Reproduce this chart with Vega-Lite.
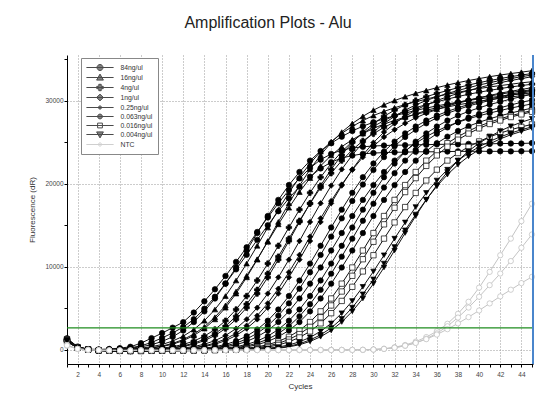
{
"$schema":"https://vega.github.io/schema/vega-lite/v6.json",
"width":466,"height":309,
"autosize":{"type":"none"},
"padding":{"left":67,"top":55,"right":18,"bottom":46},
"background":"white",
"config":{"view":{"stroke":null},"font":"Liberation Sans",
"legend":{"padding":5,"strokeColor":"#888","fillColor":"#fff","symbolSize":64,"symbolStrokeWidth":1,"labelFontSize":6.8,"labelColor":"#333","labelFont":"Liberation Sans","rowPadding":-1.6,"symbolOffset":9.5,"labelOffset":16,"cornerRadius":0,"labelExpr":"datum.label + '    '"}},
"title":{"text":"Amplification Plots - Alu","fontSize":16,"fontWeight":"normal","color":"#222","baseline":"alphabetic","offset":10,"anchor":"middle","frame":"group","dx":-32},
"data":{"values":[
{"s":"84ng/ul","r":"a","c":1,"f":1400},{"s":"84ng/ul","r":"a","c":2,"f":400},{"s":"84ng/ul","r":"a","c":3,"f":100},{"s":"84ng/ul","r":"a","c":4,"f":60},{"s":"84ng/ul","r":"a","c":5,"f":120},{"s":"84ng/ul","r":"a","c":6,"f":220},{"s":"84ng/ul","r":"a","c":7,"f":380},{"s":"84ng/ul","r":"a","c":8,"f":820},{"s":"84ng/ul","r":"a","c":9,"f":1420},{"s":"84ng/ul","r":"a","c":10,"f":2030},{"s":"84ng/ul","r":"a","c":11,"f":2680},{"s":"84ng/ul","r":"a","c":12,"f":3350},{"s":"84ng/ul","r":"a","c":13,"f":4500},{"s":"84ng/ul","r":"a","c":14,"f":5850},{"s":"84ng/ul","r":"a","c":15,"f":7300},{"s":"84ng/ul","r":"a","c":16,"f":8900},{"s":"84ng/ul","r":"a","c":17,"f":10600},{"s":"84ng/ul","r":"a","c":18,"f":12350},{"s":"84ng/ul","r":"a","c":19,"f":14200},{"s":"84ng/ul","r":"a","c":20,"f":15950},{"s":"84ng/ul","r":"a","c":21,"f":17650},{"s":"84ng/ul","r":"a","c":22,"f":19250},{"s":"84ng/ul","r":"a","c":23,"f":20650},{"s":"84ng/ul","r":"a","c":24,"f":21900},{"s":"84ng/ul","r":"a","c":25,"f":22900},{"s":"84ng/ul","r":"a","c":26,"f":23600},{"s":"84ng/ul","r":"a","c":27,"f":24050},{"s":"84ng/ul","r":"a","c":28,"f":24300},{"s":"84ng/ul","r":"a","c":29,"f":24450},{"s":"84ng/ul","r":"a","c":30,"f":24550},{"s":"84ng/ul","r":"a","c":31,"f":24600},{"s":"84ng/ul","r":"a","c":32,"f":24650},{"s":"84ng/ul","r":"a","c":33,"f":24650},{"s":"84ng/ul","r":"a","c":34,"f":24700},{"s":"84ng/ul","r":"a","c":35,"f":24700},{"s":"84ng/ul","r":"a","c":36,"f":24750},{"s":"84ng/ul","r":"a","c":37,"f":24750},{"s":"84ng/ul","r":"a","c":38,"f":24750},{"s":"84ng/ul","r":"a","c":39,"f":24800},{"s":"84ng/ul","r":"a","c":40,"f":24800},{"s":"84ng/ul","r":"a","c":41,"f":24800},{"s":"84ng/ul","r":"a","c":42,"f":24850},{"s":"84ng/ul","r":"a","c":43,"f":24850},{"s":"84ng/ul","r":"a","c":44,"f":24850},{"s":"84ng/ul","r":"a","c":45,"f":24900},
{"s":"84ng/ul","r":"b","c":1,"f":1100},{"s":"84ng/ul","r":"b","c":2,"f":300},{"s":"84ng/ul","r":"b","c":3,"f":60},{"s":"84ng/ul","r":"b","c":4,"f":20},{"s":"84ng/ul","r":"b","c":5,"f":60},{"s":"84ng/ul","r":"b","c":6,"f":130},{"s":"84ng/ul","r":"b","c":7,"f":260},{"s":"84ng/ul","r":"b","c":8,"f":500},{"s":"84ng/ul","r":"b","c":9,"f":900},{"s":"84ng/ul","r":"b","c":10,"f":1450},{"s":"84ng/ul","r":"b","c":11,"f":2050},{"s":"84ng/ul","r":"b","c":12,"f":2750},{"s":"84ng/ul","r":"b","c":13,"f":3700},{"s":"84ng/ul","r":"b","c":14,"f":4950},{"s":"84ng/ul","r":"b","c":15,"f":6400},{"s":"84ng/ul","r":"b","c":16,"f":8000},{"s":"84ng/ul","r":"b","c":17,"f":9700},{"s":"84ng/ul","r":"b","c":18,"f":11450},{"s":"84ng/ul","r":"b","c":19,"f":13250},{"s":"84ng/ul","r":"b","c":20,"f":15000},{"s":"84ng/ul","r":"b","c":21,"f":16700},{"s":"84ng/ul","r":"b","c":22,"f":18250},{"s":"84ng/ul","r":"b","c":23,"f":19650},{"s":"84ng/ul","r":"b","c":24,"f":20850},{"s":"84ng/ul","r":"b","c":25,"f":21850},{"s":"84ng/ul","r":"b","c":26,"f":22600},{"s":"84ng/ul","r":"b","c":27,"f":23100},{"s":"84ng/ul","r":"b","c":28,"f":23400},{"s":"84ng/ul","r":"b","c":29,"f":23600},{"s":"84ng/ul","r":"b","c":30,"f":23700},{"s":"84ng/ul","r":"b","c":31,"f":23750},{"s":"84ng/ul","r":"b","c":32,"f":23800},{"s":"84ng/ul","r":"b","c":33,"f":23800},{"s":"84ng/ul","r":"b","c":34,"f":23850},{"s":"84ng/ul","r":"b","c":35,"f":23850},{"s":"84ng/ul","r":"b","c":36,"f":23850},{"s":"84ng/ul","r":"b","c":37,"f":23880},{"s":"84ng/ul","r":"b","c":38,"f":23900},{"s":"84ng/ul","r":"b","c":39,"f":23900},{"s":"84ng/ul","r":"b","c":40,"f":23920},{"s":"84ng/ul","r":"b","c":41,"f":23900},{"s":"84ng/ul","r":"b","c":42,"f":23910},{"s":"84ng/ul","r":"b","c":43,"f":23900},{"s":"84ng/ul","r":"b","c":44,"f":23920},{"s":"84ng/ul","r":"b","c":45,"f":23930},
{"s":"84ng/ul","r":"c","c":1,"f":1250},{"s":"84ng/ul","r":"c","c":2,"f":320},{"s":"84ng/ul","r":"c","c":3,"f":80},{"s":"84ng/ul","r":"c","c":4,"f":16},{"s":"84ng/ul","r":"c","c":5,"f":53},{"s":"84ng/ul","r":"c","c":6,"f":110},{"s":"84ng/ul","r":"c","c":7,"f":210},{"s":"84ng/ul","r":"c","c":8,"f":373},{"s":"84ng/ul","r":"c","c":9,"f":630},{"s":"84ng/ul","r":"c","c":10,"f":1024},{"s":"84ng/ul","r":"c","c":11,"f":1586},{"s":"84ng/ul","r":"c","c":12,"f":2347},{"s":"84ng/ul","r":"c","c":13,"f":3360},{"s":"84ng/ul","r":"c","c":14,"f":4646},{"s":"84ng/ul","r":"c","c":15,"f":6195},{"s":"84ng/ul","r":"c","c":16,"f":7980},{"s":"84ng/ul","r":"c","c":17,"f":9923},{"s":"84ng/ul","r":"c","c":18,"f":11970},{"s":"84ng/ul","r":"c","c":19,"f":14070},{"s":"84ng/ul","r":"c","c":20,"f":16118},{"s":"84ng/ul","r":"c","c":21,"f":18060},{"s":"84ng/ul","r":"c","c":22,"f":19845},{"s":"84ng/ul","r":"c","c":23,"f":21420},{"s":"84ng/ul","r":"c","c":24,"f":22785},{"s":"84ng/ul","r":"c","c":25,"f":23940},{"s":"84ng/ul","r":"c","c":26,"f":24885},{"s":"84ng/ul","r":"c","c":27,"f":25673},{"s":"84ng/ul","r":"c","c":28,"f":26355},{"s":"84ng/ul","r":"c","c":29,"f":26933},{"s":"84ng/ul","r":"c","c":30,"f":27405},{"s":"84ng/ul","r":"c","c":31,"f":27825},{"s":"84ng/ul","r":"c","c":32,"f":28193},{"s":"84ng/ul","r":"c","c":33,"f":28508},{"s":"84ng/ul","r":"c","c":34,"f":28823},{"s":"84ng/ul","r":"c","c":35,"f":29111},{"s":"84ng/ul","r":"c","c":36,"f":29374},{"s":"84ng/ul","r":"c","c":37,"f":29610},{"s":"84ng/ul","r":"c","c":38,"f":29820},{"s":"84ng/ul","r":"c","c":39,"f":30030},{"s":"84ng/ul","r":"c","c":40,"f":30214},{"s":"84ng/ul","r":"c","c":41,"f":30371},{"s":"84ng/ul","r":"c","c":42,"f":30529},{"s":"84ng/ul","r":"c","c":43,"f":30686},{"s":"84ng/ul","r":"c","c":44,"f":30818},{"s":"84ng/ul","r":"c","c":45,"f":30923},
{"s":"16ng/ul","r":"a","c":1,"f":1200},{"s":"16ng/ul","r":"a","c":2,"f":300},{"s":"16ng/ul","r":"a","c":3,"f":60},{"s":"16ng/ul","r":"a","c":4,"f":-40},{"s":"16ng/ul","r":"a","c":5,"f":17},{"s":"16ng/ul","r":"a","c":6,"f":55},{"s":"16ng/ul","r":"a","c":7,"f":116},{"s":"16ng/ul","r":"a","c":8,"f":220},{"s":"16ng/ul","r":"a","c":9,"f":391},{"s":"16ng/ul","r":"a","c":10,"f":660},{"s":"16ng/ul","r":"a","c":11,"f":1073},{"s":"16ng/ul","r":"a","c":12,"f":1661},{"s":"16ng/ul","r":"a","c":13,"f":2459},{"s":"16ng/ul","r":"a","c":14,"f":3520},{"s":"16ng/ul","r":"a","c":15,"f":4868},{"s":"16ng/ul","r":"a","c":16,"f":6490},{"s":"16ng/ul","r":"a","c":17,"f":8360},{"s":"16ng/ul","r":"a","c":18,"f":10395},{"s":"16ng/ul","r":"a","c":19,"f":12540},{"s":"16ng/ul","r":"a","c":20,"f":14740},{"s":"16ng/ul","r":"a","c":21,"f":16885},{"s":"16ng/ul","r":"a","c":22,"f":18920},{"s":"16ng/ul","r":"a","c":23,"f":20790},{"s":"16ng/ul","r":"a","c":24,"f":22440},{"s":"16ng/ul","r":"a","c":25,"f":23870},{"s":"16ng/ul","r":"a","c":26,"f":25080},{"s":"16ng/ul","r":"a","c":27,"f":26070},{"s":"16ng/ul","r":"a","c":28,"f":26895},{"s":"16ng/ul","r":"a","c":29,"f":27610},{"s":"16ng/ul","r":"a","c":30,"f":28215},{"s":"16ng/ul","r":"a","c":31,"f":28710},{"s":"16ng/ul","r":"a","c":32,"f":29150},{"s":"16ng/ul","r":"a","c":33,"f":29535},{"s":"16ng/ul","r":"a","c":34,"f":29865},{"s":"16ng/ul","r":"a","c":35,"f":30195},{"s":"16ng/ul","r":"a","c":36,"f":30498},{"s":"16ng/ul","r":"a","c":37,"f":30773},{"s":"16ng/ul","r":"a","c":38,"f":31020},{"s":"16ng/ul","r":"a","c":39,"f":31240},{"s":"16ng/ul","r":"a","c":40,"f":31460},{"s":"16ng/ul","r":"a","c":41,"f":31653},{"s":"16ng/ul","r":"a","c":42,"f":31818},{"s":"16ng/ul","r":"a","c":43,"f":31983},{"s":"16ng/ul","r":"a","c":44,"f":32148},{"s":"16ng/ul","r":"a","c":45,"f":32285},
{"s":"16ng/ul","r":"b","c":1,"f":1000},{"s":"16ng/ul","r":"b","c":2,"f":250},{"s":"16ng/ul","r":"b","c":3,"f":40},{"s":"16ng/ul","r":"b","c":4,"f":-30},{"s":"16ng/ul","r":"b","c":5,"f":-10},{"s":"16ng/ul","r":"b","c":6,"f":32},{"s":"16ng/ul","r":"b","c":7,"f":74},{"s":"16ng/ul","r":"b","c":8,"f":147},{"s":"16ng/ul","r":"b","c":9,"f":273},{"s":"16ng/ul","r":"b","c":10,"f":473},{"s":"16ng/ul","r":"b","c":11,"f":788},{"s":"16ng/ul","r":"b","c":12,"f":1260},{"s":"16ng/ul","r":"b","c":13,"f":1911},{"s":"16ng/ul","r":"b","c":14,"f":2783},{"s":"16ng/ul","r":"b","c":15,"f":3938},{"s":"16ng/ul","r":"b","c":16,"f":5355},{"s":"16ng/ul","r":"b","c":17,"f":7035},{"s":"16ng/ul","r":"b","c":18,"f":8925},{"s":"16ng/ul","r":"b","c":19,"f":10920},{"s":"16ng/ul","r":"b","c":20,"f":13020},{"s":"16ng/ul","r":"b","c":21,"f":15120},{"s":"16ng/ul","r":"b","c":22,"f":17115},{"s":"16ng/ul","r":"b","c":23,"f":19005},{"s":"16ng/ul","r":"b","c":24,"f":20685},{"s":"16ng/ul","r":"b","c":25,"f":22155},{"s":"16ng/ul","r":"b","c":26,"f":23415},{"s":"16ng/ul","r":"b","c":27,"f":24465},{"s":"16ng/ul","r":"b","c":28,"f":25305},{"s":"16ng/ul","r":"b","c":29,"f":26040},{"s":"16ng/ul","r":"b","c":30,"f":26670},{"s":"16ng/ul","r":"b","c":31,"f":27195},{"s":"16ng/ul","r":"b","c":32,"f":27615},{"s":"16ng/ul","r":"b","c":33,"f":28035},{"s":"16ng/ul","r":"b","c":34,"f":28350},{"s":"16ng/ul","r":"b","c":35,"f":28665},{"s":"16ng/ul","r":"b","c":36,"f":28980},{"s":"16ng/ul","r":"b","c":37,"f":29243},{"s":"16ng/ul","r":"b","c":38,"f":29505},{"s":"16ng/ul","r":"b","c":39,"f":29715},{"s":"16ng/ul","r":"b","c":40,"f":29925},{"s":"16ng/ul","r":"b","c":41,"f":30135},{"s":"16ng/ul","r":"b","c":42,"f":30293},{"s":"16ng/ul","r":"b","c":43,"f":30450},{"s":"16ng/ul","r":"b","c":44,"f":30608},{"s":"16ng/ul","r":"b","c":45,"f":30765},
{"s":"16ng/ul","r":"c","c":1,"f":1300},{"s":"16ng/ul","r":"c","c":2,"f":350},{"s":"16ng/ul","r":"c","c":3,"f":70},{"s":"16ng/ul","r":"c","c":4,"f":-50},{"s":"16ng/ul","r":"c","c":5,"f":-20},{"s":"16ng/ul","r":"c","c":6,"f":17},{"s":"16ng/ul","r":"c","c":7,"f":58},{"s":"16ng/ul","r":"c","c":8,"f":121},{"s":"16ng/ul","r":"c","c":9,"f":230},{"s":"16ng/ul","r":"c","c":10,"f":408},{"s":"16ng/ul","r":"c","c":11,"f":690},{"s":"16ng/ul","r":"c","c":12,"f":1121},{"s":"16ng/ul","r":"c","c":13,"f":1737},{"s":"16ng/ul","r":"c","c":14,"f":2570},{"s":"16ng/ul","r":"c","c":15,"f":3680},{"s":"16ng/ul","r":"c","c":16,"f":5089},{"s":"16ng/ul","r":"c","c":17,"f":6785},{"s":"16ng/ul","r":"c","c":18,"f":8740},{"s":"16ng/ul","r":"c","c":19,"f":10868},{"s":"16ng/ul","r":"c","c":20,"f":13110},{"s":"16ng/ul","r":"c","c":21,"f":15410},{"s":"16ng/ul","r":"c","c":22,"f":17653},{"s":"16ng/ul","r":"c","c":23,"f":19780},{"s":"16ng/ul","r":"c","c":24,"f":21735},{"s":"16ng/ul","r":"c","c":25,"f":23460},{"s":"16ng/ul","r":"c","c":26,"f":24955},{"s":"16ng/ul","r":"c","c":27,"f":26220},{"s":"16ng/ul","r":"c","c":28,"f":27255},{"s":"16ng/ul","r":"c","c":29,"f":28118},{"s":"16ng/ul","r":"c","c":30,"f":28865},{"s":"16ng/ul","r":"c","c":31,"f":29498},{"s":"16ng/ul","r":"c","c":32,"f":30015},{"s":"16ng/ul","r":"c","c":33,"f":30475},{"s":"16ng/ul","r":"c","c":34,"f":30878},{"s":"16ng/ul","r":"c","c":35,"f":31223},{"s":"16ng/ul","r":"c","c":36,"f":31568},{"s":"16ng/ul","r":"c","c":37,"f":31884},{"s":"16ng/ul","r":"c","c":38,"f":32171},{"s":"16ng/ul","r":"c","c":39,"f":32430},{"s":"16ng/ul","r":"c","c":40,"f":32660},{"s":"16ng/ul","r":"c","c":41,"f":32890},{"s":"16ng/ul","r":"c","c":42,"f":33091},{"s":"16ng/ul","r":"c","c":43,"f":33264},{"s":"16ng/ul","r":"c","c":44,"f":33436},{"s":"16ng/ul","r":"c","c":45,"f":33609},
{"s":"4ng/ul","r":"a","c":1,"f":1100},{"s":"4ng/ul","r":"a","c":2,"f":280},{"s":"4ng/ul","r":"a","c":3,"f":50},{"s":"4ng/ul","r":"a","c":4,"f":-60},{"s":"4ng/ul","r":"a","c":5,"f":-30},{"s":"4ng/ul","r":"a","c":6,"f":-40},{"s":"4ng/ul","r":"a","c":7,"f":17},{"s":"4ng/ul","r":"a","c":8,"f":55},{"s":"4ng/ul","r":"a","c":9,"f":116},{"s":"4ng/ul","r":"a","c":10,"f":220},{"s":"4ng/ul","r":"a","c":11,"f":391},{"s":"4ng/ul","r":"a","c":12,"f":660},{"s":"4ng/ul","r":"a","c":13,"f":1073},{"s":"4ng/ul","r":"a","c":14,"f":1661},{"s":"4ng/ul","r":"a","c":15,"f":2459},{"s":"4ng/ul","r":"a","c":16,"f":3520},{"s":"4ng/ul","r":"a","c":17,"f":4868},{"s":"4ng/ul","r":"a","c":18,"f":6490},{"s":"4ng/ul","r":"a","c":19,"f":8360},{"s":"4ng/ul","r":"a","c":20,"f":10395},{"s":"4ng/ul","r":"a","c":21,"f":12540},{"s":"4ng/ul","r":"a","c":22,"f":14740},{"s":"4ng/ul","r":"a","c":23,"f":16885},{"s":"4ng/ul","r":"a","c":24,"f":18920},{"s":"4ng/ul","r":"a","c":25,"f":20790},{"s":"4ng/ul","r":"a","c":26,"f":22440},{"s":"4ng/ul","r":"a","c":27,"f":23870},{"s":"4ng/ul","r":"a","c":28,"f":25080},{"s":"4ng/ul","r":"a","c":29,"f":26070},{"s":"4ng/ul","r":"a","c":30,"f":26895},{"s":"4ng/ul","r":"a","c":31,"f":27610},{"s":"4ng/ul","r":"a","c":32,"f":28215},{"s":"4ng/ul","r":"a","c":33,"f":28710},{"s":"4ng/ul","r":"a","c":34,"f":29150},{"s":"4ng/ul","r":"a","c":35,"f":29535},{"s":"4ng/ul","r":"a","c":36,"f":29865},{"s":"4ng/ul","r":"a","c":37,"f":30195},{"s":"4ng/ul","r":"a","c":38,"f":30498},{"s":"4ng/ul","r":"a","c":39,"f":30773},{"s":"4ng/ul","r":"a","c":40,"f":31020},{"s":"4ng/ul","r":"a","c":41,"f":31240},{"s":"4ng/ul","r":"a","c":42,"f":31460},{"s":"4ng/ul","r":"a","c":43,"f":31653},{"s":"4ng/ul","r":"a","c":44,"f":31818},{"s":"4ng/ul","r":"a","c":45,"f":31983},
{"s":"4ng/ul","r":"b","c":1,"f":1150},{"s":"4ng/ul","r":"b","c":2,"f":310},{"s":"4ng/ul","r":"b","c":3,"f":60},{"s":"4ng/ul","r":"b","c":4,"f":-70},{"s":"4ng/ul","r":"b","c":5,"f":-50},{"s":"4ng/ul","r":"b","c":6,"f":-30},{"s":"4ng/ul","r":"b","c":7,"f":-10},{"s":"4ng/ul","r":"b","c":8,"f":32},{"s":"4ng/ul","r":"b","c":9,"f":76},{"s":"4ng/ul","r":"b","c":10,"f":151},{"s":"4ng/ul","r":"b","c":11,"f":281},{"s":"4ng/ul","r":"b","c":12,"f":486},{"s":"4ng/ul","r":"b","c":13,"f":810},{"s":"4ng/ul","r":"b","c":14,"f":1296},{"s":"4ng/ul","r":"b","c":15,"f":1966},{"s":"4ng/ul","r":"b","c":16,"f":2862},{"s":"4ng/ul","r":"b","c":17,"f":4050},{"s":"4ng/ul","r":"b","c":18,"f":5508},{"s":"4ng/ul","r":"b","c":19,"f":7236},{"s":"4ng/ul","r":"b","c":20,"f":9180},{"s":"4ng/ul","r":"b","c":21,"f":11232},{"s":"4ng/ul","r":"b","c":22,"f":13392},{"s":"4ng/ul","r":"b","c":23,"f":15552},{"s":"4ng/ul","r":"b","c":24,"f":17604},{"s":"4ng/ul","r":"b","c":25,"f":19548},{"s":"4ng/ul","r":"b","c":26,"f":21276},{"s":"4ng/ul","r":"b","c":27,"f":22788},{"s":"4ng/ul","r":"b","c":28,"f":24084},{"s":"4ng/ul","r":"b","c":29,"f":25164},{"s":"4ng/ul","r":"b","c":30,"f":26028},{"s":"4ng/ul","r":"b","c":31,"f":26784},{"s":"4ng/ul","r":"b","c":32,"f":27432},{"s":"4ng/ul","r":"b","c":33,"f":27972},{"s":"4ng/ul","r":"b","c":34,"f":28404},{"s":"4ng/ul","r":"b","c":35,"f":28836},{"s":"4ng/ul","r":"b","c":36,"f":29160},{"s":"4ng/ul","r":"b","c":37,"f":29484},{"s":"4ng/ul","r":"b","c":38,"f":29808},{"s":"4ng/ul","r":"b","c":39,"f":30078},{"s":"4ng/ul","r":"b","c":40,"f":30348},{"s":"4ng/ul","r":"b","c":41,"f":30564},{"s":"4ng/ul","r":"b","c":42,"f":30780},{"s":"4ng/ul","r":"b","c":43,"f":30996},{"s":"4ng/ul","r":"b","c":44,"f":31158},{"s":"4ng/ul","r":"b","c":45,"f":31320},
{"s":"4ng/ul","r":"c","c":1,"f":1250},{"s":"4ng/ul","r":"c","c":2,"f":330},{"s":"4ng/ul","r":"c","c":3,"f":70},{"s":"4ng/ul","r":"c","c":4,"f":-60},{"s":"4ng/ul","r":"c","c":5,"f":-80},{"s":"4ng/ul","r":"c","c":6,"f":-50},{"s":"4ng/ul","r":"c","c":7,"f":-20},{"s":"4ng/ul","r":"c","c":8,"f":17},{"s":"4ng/ul","r":"c","c":9,"f":58},{"s":"4ng/ul","r":"c","c":10,"f":121},{"s":"4ng/ul","r":"c","c":11,"f":230},{"s":"4ng/ul","r":"c","c":12,"f":408},{"s":"4ng/ul","r":"c","c":13,"f":690},{"s":"4ng/ul","r":"c","c":14,"f":1121},{"s":"4ng/ul","r":"c","c":15,"f":1737},{"s":"4ng/ul","r":"c","c":16,"f":2570},{"s":"4ng/ul","r":"c","c":17,"f":3680},{"s":"4ng/ul","r":"c","c":18,"f":5089},{"s":"4ng/ul","r":"c","c":19,"f":6785},{"s":"4ng/ul","r":"c","c":20,"f":8740},{"s":"4ng/ul","r":"c","c":21,"f":10868},{"s":"4ng/ul","r":"c","c":22,"f":13110},{"s":"4ng/ul","r":"c","c":23,"f":15410},{"s":"4ng/ul","r":"c","c":24,"f":17653},{"s":"4ng/ul","r":"c","c":25,"f":19780},{"s":"4ng/ul","r":"c","c":26,"f":21735},{"s":"4ng/ul","r":"c","c":27,"f":23460},{"s":"4ng/ul","r":"c","c":28,"f":24955},{"s":"4ng/ul","r":"c","c":29,"f":26220},{"s":"4ng/ul","r":"c","c":30,"f":27255},{"s":"4ng/ul","r":"c","c":31,"f":28118},{"s":"4ng/ul","r":"c","c":32,"f":28865},{"s":"4ng/ul","r":"c","c":33,"f":29498},{"s":"4ng/ul","r":"c","c":34,"f":30015},{"s":"4ng/ul","r":"c","c":35,"f":30475},{"s":"4ng/ul","r":"c","c":36,"f":30878},{"s":"4ng/ul","r":"c","c":37,"f":31223},{"s":"4ng/ul","r":"c","c":38,"f":31568},{"s":"4ng/ul","r":"c","c":39,"f":31884},{"s":"4ng/ul","r":"c","c":40,"f":32171},{"s":"4ng/ul","r":"c","c":41,"f":32430},{"s":"4ng/ul","r":"c","c":42,"f":32660},{"s":"4ng/ul","r":"c","c":43,"f":32890},{"s":"4ng/ul","r":"c","c":44,"f":33091},{"s":"4ng/ul","r":"c","c":45,"f":33264},
{"s":"1ng/ul","r":"a","c":1,"f":1200},{"s":"1ng/ul","r":"a","c":2,"f":300},{"s":"1ng/ul","r":"a","c":3,"f":50},{"s":"1ng/ul","r":"a","c":4,"f":-70},{"s":"1ng/ul","r":"a","c":5,"f":-60},{"s":"1ng/ul","r":"a","c":6,"f":-90},{"s":"1ng/ul","r":"a","c":7,"f":-50},{"s":"1ng/ul","r":"a","c":8,"f":-20},{"s":"1ng/ul","r":"a","c":9,"f":17},{"s":"1ng/ul","r":"a","c":10,"f":58},{"s":"1ng/ul","r":"a","c":11,"f":121},{"s":"1ng/ul","r":"a","c":12,"f":230},{"s":"1ng/ul","r":"a","c":13,"f":408},{"s":"1ng/ul","r":"a","c":14,"f":690},{"s":"1ng/ul","r":"a","c":15,"f":1121},{"s":"1ng/ul","r":"a","c":16,"f":1737},{"s":"1ng/ul","r":"a","c":17,"f":2570},{"s":"1ng/ul","r":"a","c":18,"f":3680},{"s":"1ng/ul","r":"a","c":19,"f":5089},{"s":"1ng/ul","r":"a","c":20,"f":6785},{"s":"1ng/ul","r":"a","c":21,"f":8740},{"s":"1ng/ul","r":"a","c":22,"f":10868},{"s":"1ng/ul","r":"a","c":23,"f":13110},{"s":"1ng/ul","r":"a","c":24,"f":15410},{"s":"1ng/ul","r":"a","c":25,"f":17653},{"s":"1ng/ul","r":"a","c":26,"f":19780},{"s":"1ng/ul","r":"a","c":27,"f":21735},{"s":"1ng/ul","r":"a","c":28,"f":23460},{"s":"1ng/ul","r":"a","c":29,"f":24955},{"s":"1ng/ul","r":"a","c":30,"f":26220},{"s":"1ng/ul","r":"a","c":31,"f":27255},{"s":"1ng/ul","r":"a","c":32,"f":28118},{"s":"1ng/ul","r":"a","c":33,"f":28865},{"s":"1ng/ul","r":"a","c":34,"f":29498},{"s":"1ng/ul","r":"a","c":35,"f":30015},{"s":"1ng/ul","r":"a","c":36,"f":30475},{"s":"1ng/ul","r":"a","c":37,"f":30878},{"s":"1ng/ul","r":"a","c":38,"f":31223},{"s":"1ng/ul","r":"a","c":39,"f":31568},{"s":"1ng/ul","r":"a","c":40,"f":31884},{"s":"1ng/ul","r":"a","c":41,"f":32171},{"s":"1ng/ul","r":"a","c":42,"f":32430},{"s":"1ng/ul","r":"a","c":43,"f":32660},{"s":"1ng/ul","r":"a","c":44,"f":32890},{"s":"1ng/ul","r":"a","c":45,"f":33091},
{"s":"1ng/ul","r":"b","c":1,"f":1050},{"s":"1ng/ul","r":"b","c":2,"f":270},{"s":"1ng/ul","r":"b","c":3,"f":40},{"s":"1ng/ul","r":"b","c":4,"f":-80},{"s":"1ng/ul","r":"b","c":5,"f":-100},{"s":"1ng/ul","r":"b","c":6,"f":-70},{"s":"1ng/ul","r":"b","c":7,"f":-50},{"s":"1ng/ul","r":"b","c":8,"f":-30},{"s":"1ng/ul","r":"b","c":9,"f":-10},{"s":"1ng/ul","r":"b","c":10,"f":33},{"s":"1ng/ul","r":"b","c":11,"f":77},{"s":"1ng/ul","r":"b","c":12,"f":154},{"s":"1ng/ul","r":"b","c":13,"f":286},{"s":"1ng/ul","r":"b","c":14,"f":495},{"s":"1ng/ul","r":"b","c":15,"f":825},{"s":"1ng/ul","r":"b","c":16,"f":1320},{"s":"1ng/ul","r":"b","c":17,"f":2002},{"s":"1ng/ul","r":"b","c":18,"f":2915},{"s":"1ng/ul","r":"b","c":19,"f":4125},{"s":"1ng/ul","r":"b","c":20,"f":5610},{"s":"1ng/ul","r":"b","c":21,"f":7370},{"s":"1ng/ul","r":"b","c":22,"f":9350},{"s":"1ng/ul","r":"b","c":23,"f":11440},{"s":"1ng/ul","r":"b","c":24,"f":13640},{"s":"1ng/ul","r":"b","c":25,"f":15840},{"s":"1ng/ul","r":"b","c":26,"f":17930},{"s":"1ng/ul","r":"b","c":27,"f":19910},{"s":"1ng/ul","r":"b","c":28,"f":21670},{"s":"1ng/ul","r":"b","c":29,"f":23210},{"s":"1ng/ul","r":"b","c":30,"f":24530},{"s":"1ng/ul","r":"b","c":31,"f":25630},{"s":"1ng/ul","r":"b","c":32,"f":26510},{"s":"1ng/ul","r":"b","c":33,"f":27280},{"s":"1ng/ul","r":"b","c":34,"f":27940},{"s":"1ng/ul","r":"b","c":35,"f":28490},{"s":"1ng/ul","r":"b","c":36,"f":28930},{"s":"1ng/ul","r":"b","c":37,"f":29370},{"s":"1ng/ul","r":"b","c":38,"f":29700},{"s":"1ng/ul","r":"b","c":39,"f":30030},{"s":"1ng/ul","r":"b","c":40,"f":30360},{"s":"1ng/ul","r":"b","c":41,"f":30635},{"s":"1ng/ul","r":"b","c":42,"f":30910},{"s":"1ng/ul","r":"b","c":43,"f":31130},{"s":"1ng/ul","r":"b","c":44,"f":31350},{"s":"1ng/ul","r":"b","c":45,"f":31570},
{"s":"1ng/ul","r":"c","c":1,"f":1350},{"s":"1ng/ul","r":"c","c":2,"f":360},{"s":"1ng/ul","r":"c","c":3,"f":80},{"s":"1ng/ul","r":"c","c":4,"f":-50},{"s":"1ng/ul","r":"c","c":5,"f":-90},{"s":"1ng/ul","r":"c","c":6,"f":-110},{"s":"1ng/ul","r":"c","c":7,"f":-80},{"s":"1ng/ul","r":"c","c":8,"f":-60},{"s":"1ng/ul","r":"c","c":9,"f":-20},{"s":"1ng/ul","r":"c","c":10,"f":17},{"s":"1ng/ul","r":"c","c":11,"f":58},{"s":"1ng/ul","r":"c","c":12,"f":121},{"s":"1ng/ul","r":"c","c":13,"f":230},{"s":"1ng/ul","r":"c","c":14,"f":408},{"s":"1ng/ul","r":"c","c":15,"f":690},{"s":"1ng/ul","r":"c","c":16,"f":1121},{"s":"1ng/ul","r":"c","c":17,"f":1737},{"s":"1ng/ul","r":"c","c":18,"f":2570},{"s":"1ng/ul","r":"c","c":19,"f":3680},{"s":"1ng/ul","r":"c","c":20,"f":5089},{"s":"1ng/ul","r":"c","c":21,"f":6785},{"s":"1ng/ul","r":"c","c":22,"f":8740},{"s":"1ng/ul","r":"c","c":23,"f":10868},{"s":"1ng/ul","r":"c","c":24,"f":13110},{"s":"1ng/ul","r":"c","c":25,"f":15410},{"s":"1ng/ul","r":"c","c":26,"f":17653},{"s":"1ng/ul","r":"c","c":27,"f":19780},{"s":"1ng/ul","r":"c","c":28,"f":21735},{"s":"1ng/ul","r":"c","c":29,"f":23460},{"s":"1ng/ul","r":"c","c":30,"f":24955},{"s":"1ng/ul","r":"c","c":31,"f":26220},{"s":"1ng/ul","r":"c","c":32,"f":27255},{"s":"1ng/ul","r":"c","c":33,"f":28118},{"s":"1ng/ul","r":"c","c":34,"f":28865},{"s":"1ng/ul","r":"c","c":35,"f":29498},{"s":"1ng/ul","r":"c","c":36,"f":30015},{"s":"1ng/ul","r":"c","c":37,"f":30475},{"s":"1ng/ul","r":"c","c":38,"f":30878},{"s":"1ng/ul","r":"c","c":39,"f":31223},{"s":"1ng/ul","r":"c","c":40,"f":31568},{"s":"1ng/ul","r":"c","c":41,"f":31884},{"s":"1ng/ul","r":"c","c":42,"f":32171},{"s":"1ng/ul","r":"c","c":43,"f":32430},{"s":"1ng/ul","r":"c","c":44,"f":32660},{"s":"1ng/ul","r":"c","c":45,"f":32890},
{"s":"0.25ng/ul","r":"a","c":1,"f":1150},{"s":"0.25ng/ul","r":"a","c":2,"f":290},{"s":"0.25ng/ul","r":"a","c":3,"f":60},{"s":"0.25ng/ul","r":"a","c":4,"f":-60},{"s":"0.25ng/ul","r":"a","c":5,"f":-90},{"s":"0.25ng/ul","r":"a","c":6,"f":-120},{"s":"0.25ng/ul","r":"a","c":7,"f":-100},{"s":"0.25ng/ul","r":"a","c":8,"f":-80},{"s":"0.25ng/ul","r":"a","c":9,"f":-60},{"s":"0.25ng/ul","r":"a","c":10,"f":-40},{"s":"0.25ng/ul","r":"a","c":11,"f":17},{"s":"0.25ng/ul","r":"a","c":12,"f":55},{"s":"0.25ng/ul","r":"a","c":13,"f":116},{"s":"0.25ng/ul","r":"a","c":14,"f":220},{"s":"0.25ng/ul","r":"a","c":15,"f":391},{"s":"0.25ng/ul","r":"a","c":16,"f":660},{"s":"0.25ng/ul","r":"a","c":17,"f":1073},{"s":"0.25ng/ul","r":"a","c":18,"f":1661},{"s":"0.25ng/ul","r":"a","c":19,"f":2459},{"s":"0.25ng/ul","r":"a","c":20,"f":3520},{"s":"0.25ng/ul","r":"a","c":21,"f":4868},{"s":"0.25ng/ul","r":"a","c":22,"f":6490},{"s":"0.25ng/ul","r":"a","c":23,"f":8360},{"s":"0.25ng/ul","r":"a","c":24,"f":10395},{"s":"0.25ng/ul","r":"a","c":25,"f":12540},{"s":"0.25ng/ul","r":"a","c":26,"f":14740},{"s":"0.25ng/ul","r":"a","c":27,"f":16885},{"s":"0.25ng/ul","r":"a","c":28,"f":18920},{"s":"0.25ng/ul","r":"a","c":29,"f":20790},{"s":"0.25ng/ul","r":"a","c":30,"f":22440},{"s":"0.25ng/ul","r":"a","c":31,"f":23870},{"s":"0.25ng/ul","r":"a","c":32,"f":25080},{"s":"0.25ng/ul","r":"a","c":33,"f":26070},{"s":"0.25ng/ul","r":"a","c":34,"f":26895},{"s":"0.25ng/ul","r":"a","c":35,"f":27610},{"s":"0.25ng/ul","r":"a","c":36,"f":28215},{"s":"0.25ng/ul","r":"a","c":37,"f":28710},{"s":"0.25ng/ul","r":"a","c":38,"f":29150},{"s":"0.25ng/ul","r":"a","c":39,"f":29535},{"s":"0.25ng/ul","r":"a","c":40,"f":29865},{"s":"0.25ng/ul","r":"a","c":41,"f":30195},{"s":"0.25ng/ul","r":"a","c":42,"f":30498},{"s":"0.25ng/ul","r":"a","c":43,"f":30773},{"s":"0.25ng/ul","r":"a","c":44,"f":31020},{"s":"0.25ng/ul","r":"a","c":45,"f":31240},
{"s":"0.25ng/ul","r":"b","c":1,"f":1000},{"s":"0.25ng/ul","r":"b","c":2,"f":260},{"s":"0.25ng/ul","r":"b","c":3,"f":50},{"s":"0.25ng/ul","r":"b","c":4,"f":-70},{"s":"0.25ng/ul","r":"b","c":5,"f":-100},{"s":"0.25ng/ul","r":"b","c":6,"f":-120},{"s":"0.25ng/ul","r":"b","c":7,"f":-90},{"s":"0.25ng/ul","r":"b","c":8,"f":-70},{"s":"0.25ng/ul","r":"b","c":9,"f":-50},{"s":"0.25ng/ul","r":"b","c":10,"f":-30},{"s":"0.25ng/ul","r":"b","c":11,"f":-10},{"s":"0.25ng/ul","r":"b","c":12,"f":33},{"s":"0.25ng/ul","r":"b","c":13,"f":77},{"s":"0.25ng/ul","r":"b","c":14,"f":154},{"s":"0.25ng/ul","r":"b","c":15,"f":286},{"s":"0.25ng/ul","r":"b","c":16,"f":495},{"s":"0.25ng/ul","r":"b","c":17,"f":825},{"s":"0.25ng/ul","r":"b","c":18,"f":1320},{"s":"0.25ng/ul","r":"b","c":19,"f":2002},{"s":"0.25ng/ul","r":"b","c":20,"f":2915},{"s":"0.25ng/ul","r":"b","c":21,"f":4125},{"s":"0.25ng/ul","r":"b","c":22,"f":5610},{"s":"0.25ng/ul","r":"b","c":23,"f":7370},{"s":"0.25ng/ul","r":"b","c":24,"f":9350},{"s":"0.25ng/ul","r":"b","c":25,"f":11440},{"s":"0.25ng/ul","r":"b","c":26,"f":13640},{"s":"0.25ng/ul","r":"b","c":27,"f":15840},{"s":"0.25ng/ul","r":"b","c":28,"f":17930},{"s":"0.25ng/ul","r":"b","c":29,"f":19910},{"s":"0.25ng/ul","r":"b","c":30,"f":21670},{"s":"0.25ng/ul","r":"b","c":31,"f":23210},{"s":"0.25ng/ul","r":"b","c":32,"f":24530},{"s":"0.25ng/ul","r":"b","c":33,"f":25630},{"s":"0.25ng/ul","r":"b","c":34,"f":26510},{"s":"0.25ng/ul","r":"b","c":35,"f":27280},{"s":"0.25ng/ul","r":"b","c":36,"f":27940},{"s":"0.25ng/ul","r":"b","c":37,"f":28490},{"s":"0.25ng/ul","r":"b","c":38,"f":28930},{"s":"0.25ng/ul","r":"b","c":39,"f":29370},{"s":"0.25ng/ul","r":"b","c":40,"f":29700},{"s":"0.25ng/ul","r":"b","c":41,"f":30030},{"s":"0.25ng/ul","r":"b","c":42,"f":30360},{"s":"0.25ng/ul","r":"b","c":43,"f":30635},{"s":"0.25ng/ul","r":"b","c":44,"f":30910},{"s":"0.25ng/ul","r":"b","c":45,"f":31130},
{"s":"0.25ng/ul","r":"c","c":1,"f":1300},{"s":"0.25ng/ul","r":"c","c":2,"f":340},{"s":"0.25ng/ul","r":"c","c":3,"f":70},{"s":"0.25ng/ul","r":"c","c":4,"f":-40},{"s":"0.25ng/ul","r":"c","c":5,"f":-70},{"s":"0.25ng/ul","r":"c","c":6,"f":-100},{"s":"0.25ng/ul","r":"c","c":7,"f":-120},{"s":"0.25ng/ul","r":"c","c":8,"f":-90},{"s":"0.25ng/ul","r":"c","c":9,"f":-70},{"s":"0.25ng/ul","r":"c","c":10,"f":-50},{"s":"0.25ng/ul","r":"c","c":11,"f":-30},{"s":"0.25ng/ul","r":"c","c":12,"f":16},{"s":"0.25ng/ul","r":"c","c":13,"f":53},{"s":"0.25ng/ul","r":"c","c":14,"f":110},{"s":"0.25ng/ul","r":"c","c":15,"f":210},{"s":"0.25ng/ul","r":"c","c":16,"f":373},{"s":"0.25ng/ul","r":"c","c":17,"f":630},{"s":"0.25ng/ul","r":"c","c":18,"f":1024},{"s":"0.25ng/ul","r":"c","c":19,"f":1586},{"s":"0.25ng/ul","r":"c","c":20,"f":2347},{"s":"0.25ng/ul","r":"c","c":21,"f":3360},{"s":"0.25ng/ul","r":"c","c":22,"f":4646},{"s":"0.25ng/ul","r":"c","c":23,"f":6195},{"s":"0.25ng/ul","r":"c","c":24,"f":7980},{"s":"0.25ng/ul","r":"c","c":25,"f":9923},{"s":"0.25ng/ul","r":"c","c":26,"f":11970},{"s":"0.25ng/ul","r":"c","c":27,"f":14070},{"s":"0.25ng/ul","r":"c","c":28,"f":16118},{"s":"0.25ng/ul","r":"c","c":29,"f":18060},{"s":"0.25ng/ul","r":"c","c":30,"f":19845},{"s":"0.25ng/ul","r":"c","c":31,"f":21420},{"s":"0.25ng/ul","r":"c","c":32,"f":22785},{"s":"0.25ng/ul","r":"c","c":33,"f":23940},{"s":"0.25ng/ul","r":"c","c":34,"f":24885},{"s":"0.25ng/ul","r":"c","c":35,"f":25673},{"s":"0.25ng/ul","r":"c","c":36,"f":26355},{"s":"0.25ng/ul","r":"c","c":37,"f":26933},{"s":"0.25ng/ul","r":"c","c":38,"f":27405},{"s":"0.25ng/ul","r":"c","c":39,"f":27825},{"s":"0.25ng/ul","r":"c","c":40,"f":28193},{"s":"0.25ng/ul","r":"c","c":41,"f":28508},{"s":"0.25ng/ul","r":"c","c":42,"f":28823},{"s":"0.25ng/ul","r":"c","c":43,"f":29111},{"s":"0.25ng/ul","r":"c","c":44,"f":29374},{"s":"0.25ng/ul","r":"c","c":45,"f":29610},
{"s":"0.063ng/ul","r":"a","c":1,"f":1100},{"s":"0.063ng/ul","r":"a","c":2,"f":280},{"s":"0.063ng/ul","r":"a","c":3,"f":50},{"s":"0.063ng/ul","r":"a","c":4,"f":-60},{"s":"0.063ng/ul","r":"a","c":5,"f":-90},{"s":"0.063ng/ul","r":"a","c":6,"f":-110},{"s":"0.063ng/ul","r":"a","c":7,"f":-130},{"s":"0.063ng/ul","r":"a","c":8,"f":-100},{"s":"0.063ng/ul","r":"a","c":9,"f":-80},{"s":"0.063ng/ul","r":"a","c":10,"f":-60},{"s":"0.063ng/ul","r":"a","c":11,"f":-50},{"s":"0.063ng/ul","r":"a","c":12,"f":-40},{"s":"0.063ng/ul","r":"a","c":13,"f":17},{"s":"0.063ng/ul","r":"a","c":14,"f":55},{"s":"0.063ng/ul","r":"a","c":15,"f":116},{"s":"0.063ng/ul","r":"a","c":16,"f":220},{"s":"0.063ng/ul","r":"a","c":17,"f":391},{"s":"0.063ng/ul","r":"a","c":18,"f":660},{"s":"0.063ng/ul","r":"a","c":19,"f":1073},{"s":"0.063ng/ul","r":"a","c":20,"f":1661},{"s":"0.063ng/ul","r":"a","c":21,"f":2459},{"s":"0.063ng/ul","r":"a","c":22,"f":3520},{"s":"0.063ng/ul","r":"a","c":23,"f":4868},{"s":"0.063ng/ul","r":"a","c":24,"f":6490},{"s":"0.063ng/ul","r":"a","c":25,"f":8360},{"s":"0.063ng/ul","r":"a","c":26,"f":10395},{"s":"0.063ng/ul","r":"a","c":27,"f":12540},{"s":"0.063ng/ul","r":"a","c":28,"f":14740},{"s":"0.063ng/ul","r":"a","c":29,"f":16885},{"s":"0.063ng/ul","r":"a","c":30,"f":18920},{"s":"0.063ng/ul","r":"a","c":31,"f":20790},{"s":"0.063ng/ul","r":"a","c":32,"f":22440},{"s":"0.063ng/ul","r":"a","c":33,"f":23870},{"s":"0.063ng/ul","r":"a","c":34,"f":25080},{"s":"0.063ng/ul","r":"a","c":35,"f":26070},{"s":"0.063ng/ul","r":"a","c":36,"f":26895},{"s":"0.063ng/ul","r":"a","c":37,"f":27610},{"s":"0.063ng/ul","r":"a","c":38,"f":28215},{"s":"0.063ng/ul","r":"a","c":39,"f":28710},{"s":"0.063ng/ul","r":"a","c":40,"f":29150},{"s":"0.063ng/ul","r":"a","c":41,"f":29535},{"s":"0.063ng/ul","r":"a","c":42,"f":29865},{"s":"0.063ng/ul","r":"a","c":43,"f":30195},{"s":"0.063ng/ul","r":"a","c":44,"f":30498},{"s":"0.063ng/ul","r":"a","c":45,"f":30773},
{"s":"0.063ng/ul","r":"b","c":1,"f":1050},{"s":"0.063ng/ul","r":"b","c":2,"f":270},{"s":"0.063ng/ul","r":"b","c":3,"f":40},{"s":"0.063ng/ul","r":"b","c":4,"f":-80},{"s":"0.063ng/ul","r":"b","c":5,"f":-100},{"s":"0.063ng/ul","r":"b","c":6,"f":-110},{"s":"0.063ng/ul","r":"b","c":7,"f":-120},{"s":"0.063ng/ul","r":"b","c":8,"f":-100},{"s":"0.063ng/ul","r":"b","c":9,"f":-90},{"s":"0.063ng/ul","r":"b","c":10,"f":-70},{"s":"0.063ng/ul","r":"b","c":11,"f":-50},{"s":"0.063ng/ul","r":"b","c":12,"f":-30},{"s":"0.063ng/ul","r":"b","c":13,"f":-10},{"s":"0.063ng/ul","r":"b","c":14,"f":32},{"s":"0.063ng/ul","r":"b","c":15,"f":76},{"s":"0.063ng/ul","r":"b","c":16,"f":151},{"s":"0.063ng/ul","r":"b","c":17,"f":281},{"s":"0.063ng/ul","r":"b","c":18,"f":486},{"s":"0.063ng/ul","r":"b","c":19,"f":810},{"s":"0.063ng/ul","r":"b","c":20,"f":1296},{"s":"0.063ng/ul","r":"b","c":21,"f":1966},{"s":"0.063ng/ul","r":"b","c":22,"f":2862},{"s":"0.063ng/ul","r":"b","c":23,"f":4050},{"s":"0.063ng/ul","r":"b","c":24,"f":5508},{"s":"0.063ng/ul","r":"b","c":25,"f":7236},{"s":"0.063ng/ul","r":"b","c":26,"f":9180},{"s":"0.063ng/ul","r":"b","c":27,"f":11232},{"s":"0.063ng/ul","r":"b","c":28,"f":13392},{"s":"0.063ng/ul","r":"b","c":29,"f":15552},{"s":"0.063ng/ul","r":"b","c":30,"f":17604},{"s":"0.063ng/ul","r":"b","c":31,"f":19548},{"s":"0.063ng/ul","r":"b","c":32,"f":21276},{"s":"0.063ng/ul","r":"b","c":33,"f":22788},{"s":"0.063ng/ul","r":"b","c":34,"f":24084},{"s":"0.063ng/ul","r":"b","c":35,"f":25164},{"s":"0.063ng/ul","r":"b","c":36,"f":26028},{"s":"0.063ng/ul","r":"b","c":37,"f":26784},{"s":"0.063ng/ul","r":"b","c":38,"f":27432},{"s":"0.063ng/ul","r":"b","c":39,"f":27972},{"s":"0.063ng/ul","r":"b","c":40,"f":28404},{"s":"0.063ng/ul","r":"b","c":41,"f":28836},{"s":"0.063ng/ul","r":"b","c":42,"f":29160},{"s":"0.063ng/ul","r":"b","c":43,"f":29484},{"s":"0.063ng/ul","r":"b","c":44,"f":29808},{"s":"0.063ng/ul","r":"b","c":45,"f":30078},
{"s":"0.063ng/ul","r":"c","c":1,"f":1250},{"s":"0.063ng/ul","r":"c","c":2,"f":330},{"s":"0.063ng/ul","r":"c","c":3,"f":60},{"s":"0.063ng/ul","r":"c","c":4,"f":-50},{"s":"0.063ng/ul","r":"c","c":5,"f":-80},{"s":"0.063ng/ul","r":"c","c":6,"f":-100},{"s":"0.063ng/ul","r":"c","c":7,"f":-120},{"s":"0.063ng/ul","r":"c","c":8,"f":-110},{"s":"0.063ng/ul","r":"c","c":9,"f":-90},{"s":"0.063ng/ul","r":"c","c":10,"f":-80},{"s":"0.063ng/ul","r":"c","c":11,"f":-60},{"s":"0.063ng/ul","r":"c","c":12,"f":-50},{"s":"0.063ng/ul","r":"c","c":13,"f":-30},{"s":"0.063ng/ul","r":"c","c":14,"f":16},{"s":"0.063ng/ul","r":"c","c":15,"f":53},{"s":"0.063ng/ul","r":"c","c":16,"f":110},{"s":"0.063ng/ul","r":"c","c":17,"f":210},{"s":"0.063ng/ul","r":"c","c":18,"f":373},{"s":"0.063ng/ul","r":"c","c":19,"f":630},{"s":"0.063ng/ul","r":"c","c":20,"f":1024},{"s":"0.063ng/ul","r":"c","c":21,"f":1586},{"s":"0.063ng/ul","r":"c","c":22,"f":2347},{"s":"0.063ng/ul","r":"c","c":23,"f":3360},{"s":"0.063ng/ul","r":"c","c":24,"f":4646},{"s":"0.063ng/ul","r":"c","c":25,"f":6195},{"s":"0.063ng/ul","r":"c","c":26,"f":7980},{"s":"0.063ng/ul","r":"c","c":27,"f":9923},{"s":"0.063ng/ul","r":"c","c":28,"f":11970},{"s":"0.063ng/ul","r":"c","c":29,"f":14070},{"s":"0.063ng/ul","r":"c","c":30,"f":16118},{"s":"0.063ng/ul","r":"c","c":31,"f":18060},{"s":"0.063ng/ul","r":"c","c":32,"f":19845},{"s":"0.063ng/ul","r":"c","c":33,"f":21420},{"s":"0.063ng/ul","r":"c","c":34,"f":22785},{"s":"0.063ng/ul","r":"c","c":35,"f":23940},{"s":"0.063ng/ul","r":"c","c":36,"f":24885},{"s":"0.063ng/ul","r":"c","c":37,"f":25673},{"s":"0.063ng/ul","r":"c","c":38,"f":26355},{"s":"0.063ng/ul","r":"c","c":39,"f":26933},{"s":"0.063ng/ul","r":"c","c":40,"f":27405},{"s":"0.063ng/ul","r":"c","c":41,"f":27825},{"s":"0.063ng/ul","r":"c","c":42,"f":28193},{"s":"0.063ng/ul","r":"c","c":43,"f":28508},{"s":"0.063ng/ul","r":"c","c":44,"f":28823},{"s":"0.063ng/ul","r":"c","c":45,"f":29111},
{"s":"0.016ng/ul","r":"a","c":1,"f":1200},{"s":"0.016ng/ul","r":"a","c":2,"f":310},{"s":"0.016ng/ul","r":"a","c":3,"f":60},{"s":"0.016ng/ul","r":"a","c":4,"f":-60},{"s":"0.016ng/ul","r":"a","c":5,"f":-90},{"s":"0.016ng/ul","r":"a","c":6,"f":-110},{"s":"0.016ng/ul","r":"a","c":7,"f":-130},{"s":"0.016ng/ul","r":"a","c":8,"f":-120},{"s":"0.016ng/ul","r":"a","c":9,"f":-100},{"s":"0.016ng/ul","r":"a","c":10,"f":-90},{"s":"0.016ng/ul","r":"a","c":11,"f":-70},{"s":"0.016ng/ul","r":"a","c":12,"f":-60},{"s":"0.016ng/ul","r":"a","c":13,"f":-50},{"s":"0.016ng/ul","r":"a","c":14,"f":-30},{"s":"0.016ng/ul","r":"a","c":15,"f":16},{"s":"0.016ng/ul","r":"a","c":16,"f":53},{"s":"0.016ng/ul","r":"a","c":17,"f":110},{"s":"0.016ng/ul","r":"a","c":18,"f":210},{"s":"0.016ng/ul","r":"a","c":19,"f":373},{"s":"0.016ng/ul","r":"a","c":20,"f":630},{"s":"0.016ng/ul","r":"a","c":21,"f":1024},{"s":"0.016ng/ul","r":"a","c":22,"f":1586},{"s":"0.016ng/ul","r":"a","c":23,"f":2347},{"s":"0.016ng/ul","r":"a","c":24,"f":3360},{"s":"0.016ng/ul","r":"a","c":25,"f":4646},{"s":"0.016ng/ul","r":"a","c":26,"f":6195},{"s":"0.016ng/ul","r":"a","c":27,"f":7980},{"s":"0.016ng/ul","r":"a","c":28,"f":9923},{"s":"0.016ng/ul","r":"a","c":29,"f":11970},{"s":"0.016ng/ul","r":"a","c":30,"f":14070},{"s":"0.016ng/ul","r":"a","c":31,"f":16118},{"s":"0.016ng/ul","r":"a","c":32,"f":18060},{"s":"0.016ng/ul","r":"a","c":33,"f":19845},{"s":"0.016ng/ul","r":"a","c":34,"f":21420},{"s":"0.016ng/ul","r":"a","c":35,"f":22785},{"s":"0.016ng/ul","r":"a","c":36,"f":23940},{"s":"0.016ng/ul","r":"a","c":37,"f":24885},{"s":"0.016ng/ul","r":"a","c":38,"f":25673},{"s":"0.016ng/ul","r":"a","c":39,"f":26355},{"s":"0.016ng/ul","r":"a","c":40,"f":26933},{"s":"0.016ng/ul","r":"a","c":41,"f":27405},{"s":"0.016ng/ul","r":"a","c":42,"f":27825},{"s":"0.016ng/ul","r":"a","c":43,"f":28193},{"s":"0.016ng/ul","r":"a","c":44,"f":28508},{"s":"0.016ng/ul","r":"a","c":45,"f":28823},
{"s":"0.016ng/ul","r":"b","c":1,"f":1000},{"s":"0.016ng/ul","r":"b","c":2,"f":250},{"s":"0.016ng/ul","r":"b","c":3,"f":40},{"s":"0.016ng/ul","r":"b","c":4,"f":-70},{"s":"0.016ng/ul","r":"b","c":5,"f":-90},{"s":"0.016ng/ul","r":"b","c":6,"f":-110},{"s":"0.016ng/ul","r":"b","c":7,"f":-120},{"s":"0.016ng/ul","r":"b","c":8,"f":-100},{"s":"0.016ng/ul","r":"b","c":9,"f":-90},{"s":"0.016ng/ul","r":"b","c":10,"f":-80},{"s":"0.016ng/ul","r":"b","c":11,"f":-60},{"s":"0.016ng/ul","r":"b","c":12,"f":-50},{"s":"0.016ng/ul","r":"b","c":13,"f":-40},{"s":"0.016ng/ul","r":"b","c":14,"f":-30},{"s":"0.016ng/ul","r":"b","c":15,"f":-10},{"s":"0.016ng/ul","r":"b","c":16,"f":32},{"s":"0.016ng/ul","r":"b","c":17,"f":74},{"s":"0.016ng/ul","r":"b","c":18,"f":147},{"s":"0.016ng/ul","r":"b","c":19,"f":273},{"s":"0.016ng/ul","r":"b","c":20,"f":473},{"s":"0.016ng/ul","r":"b","c":21,"f":788},{"s":"0.016ng/ul","r":"b","c":22,"f":1260},{"s":"0.016ng/ul","r":"b","c":23,"f":1911},{"s":"0.016ng/ul","r":"b","c":24,"f":2783},{"s":"0.016ng/ul","r":"b","c":25,"f":3938},{"s":"0.016ng/ul","r":"b","c":26,"f":5355},{"s":"0.016ng/ul","r":"b","c":27,"f":7035},{"s":"0.016ng/ul","r":"b","c":28,"f":8925},{"s":"0.016ng/ul","r":"b","c":29,"f":10920},{"s":"0.016ng/ul","r":"b","c":30,"f":13020},{"s":"0.016ng/ul","r":"b","c":31,"f":15120},{"s":"0.016ng/ul","r":"b","c":32,"f":17115},{"s":"0.016ng/ul","r":"b","c":33,"f":19005},{"s":"0.016ng/ul","r":"b","c":34,"f":20685},{"s":"0.016ng/ul","r":"b","c":35,"f":22155},{"s":"0.016ng/ul","r":"b","c":36,"f":23415},{"s":"0.016ng/ul","r":"b","c":37,"f":24465},{"s":"0.016ng/ul","r":"b","c":38,"f":25305},{"s":"0.016ng/ul","r":"b","c":39,"f":26040},{"s":"0.016ng/ul","r":"b","c":40,"f":26670},{"s":"0.016ng/ul","r":"b","c":41,"f":27195},{"s":"0.016ng/ul","r":"b","c":42,"f":27615},{"s":"0.016ng/ul","r":"b","c":43,"f":28035},{"s":"0.016ng/ul","r":"b","c":44,"f":28350},{"s":"0.016ng/ul","r":"b","c":45,"f":28665},
{"s":"0.016ng/ul","r":"c","c":1,"f":1300},{"s":"0.016ng/ul","r":"c","c":2,"f":340},{"s":"0.016ng/ul","r":"c","c":3,"f":70},{"s":"0.016ng/ul","r":"c","c":4,"f":-50},{"s":"0.016ng/ul","r":"c","c":5,"f":-80},{"s":"0.016ng/ul","r":"c","c":6,"f":-100},{"s":"0.016ng/ul","r":"c","c":7,"f":-120},{"s":"0.016ng/ul","r":"c","c":8,"f":-130},{"s":"0.016ng/ul","r":"c","c":9,"f":-110},{"s":"0.016ng/ul","r":"c","c":10,"f":-100},{"s":"0.016ng/ul","r":"c","c":11,"f":-90},{"s":"0.016ng/ul","r":"c","c":12,"f":-70},{"s":"0.016ng/ul","r":"c","c":13,"f":-60},{"s":"0.016ng/ul","r":"c","c":14,"f":-40},{"s":"0.016ng/ul","r":"c","c":15,"f":-20},{"s":"0.016ng/ul","r":"c","c":16,"f":15},{"s":"0.016ng/ul","r":"c","c":17,"f":50},{"s":"0.016ng/ul","r":"c","c":18,"f":105},{"s":"0.016ng/ul","r":"c","c":19,"f":200},{"s":"0.016ng/ul","r":"c","c":20,"f":355},{"s":"0.016ng/ul","r":"c","c":21,"f":600},{"s":"0.016ng/ul","r":"c","c":22,"f":975},{"s":"0.016ng/ul","r":"c","c":23,"f":1510},{"s":"0.016ng/ul","r":"c","c":24,"f":2235},{"s":"0.016ng/ul","r":"c","c":25,"f":3200},{"s":"0.016ng/ul","r":"c","c":26,"f":4425},{"s":"0.016ng/ul","r":"c","c":27,"f":5900},{"s":"0.016ng/ul","r":"c","c":28,"f":7600},{"s":"0.016ng/ul","r":"c","c":29,"f":9450},{"s":"0.016ng/ul","r":"c","c":30,"f":11400},{"s":"0.016ng/ul","r":"c","c":31,"f":13400},{"s":"0.016ng/ul","r":"c","c":32,"f":15350},{"s":"0.016ng/ul","r":"c","c":33,"f":17200},{"s":"0.016ng/ul","r":"c","c":34,"f":18900},{"s":"0.016ng/ul","r":"c","c":35,"f":20400},{"s":"0.016ng/ul","r":"c","c":36,"f":21700},{"s":"0.016ng/ul","r":"c","c":37,"f":22800},{"s":"0.016ng/ul","r":"c","c":38,"f":23700},{"s":"0.016ng/ul","r":"c","c":39,"f":24450},{"s":"0.016ng/ul","r":"c","c":40,"f":25100},{"s":"0.016ng/ul","r":"c","c":41,"f":25650},{"s":"0.016ng/ul","r":"c","c":42,"f":26100},{"s":"0.016ng/ul","r":"c","c":43,"f":26500},{"s":"0.016ng/ul","r":"c","c":44,"f":26850},{"s":"0.016ng/ul","r":"c","c":45,"f":27150},
{"s":"0.004ng/ul","r":"a","c":1,"f":1150},{"s":"0.004ng/ul","r":"a","c":2,"f":290},{"s":"0.004ng/ul","r":"a","c":3,"f":50},{"s":"0.004ng/ul","r":"a","c":4,"f":-60},{"s":"0.004ng/ul","r":"a","c":5,"f":-90},{"s":"0.004ng/ul","r":"a","c":6,"f":-110},{"s":"0.004ng/ul","r":"a","c":7,"f":-120},{"s":"0.004ng/ul","r":"a","c":8,"f":-130},{"s":"0.004ng/ul","r":"a","c":9,"f":-120},{"s":"0.004ng/ul","r":"a","c":10,"f":-100},{"s":"0.004ng/ul","r":"a","c":11,"f":-90},{"s":"0.004ng/ul","r":"a","c":12,"f":-80},{"s":"0.004ng/ul","r":"a","c":13,"f":-60},{"s":"0.004ng/ul","r":"a","c":14,"f":-50},{"s":"0.004ng/ul","r":"a","c":15,"f":-40},{"s":"0.004ng/ul","r":"a","c":16,"f":-20},{"s":"0.004ng/ul","r":"a","c":17,"f":15},{"s":"0.004ng/ul","r":"a","c":18,"f":50},{"s":"0.004ng/ul","r":"a","c":19,"f":105},{"s":"0.004ng/ul","r":"a","c":20,"f":200},{"s":"0.004ng/ul","r":"a","c":21,"f":355},{"s":"0.004ng/ul","r":"a","c":22,"f":600},{"s":"0.004ng/ul","r":"a","c":23,"f":975},{"s":"0.004ng/ul","r":"a","c":24,"f":1510},{"s":"0.004ng/ul","r":"a","c":25,"f":2235},{"s":"0.004ng/ul","r":"a","c":26,"f":3200},{"s":"0.004ng/ul","r":"a","c":27,"f":4425},{"s":"0.004ng/ul","r":"a","c":28,"f":5900},{"s":"0.004ng/ul","r":"a","c":29,"f":7600},{"s":"0.004ng/ul","r":"a","c":30,"f":9450},{"s":"0.004ng/ul","r":"a","c":31,"f":11400},{"s":"0.004ng/ul","r":"a","c":32,"f":13400},{"s":"0.004ng/ul","r":"a","c":33,"f":15350},{"s":"0.004ng/ul","r":"a","c":34,"f":17200},{"s":"0.004ng/ul","r":"a","c":35,"f":18900},{"s":"0.004ng/ul","r":"a","c":36,"f":20400},{"s":"0.004ng/ul","r":"a","c":37,"f":21700},{"s":"0.004ng/ul","r":"a","c":38,"f":22800},{"s":"0.004ng/ul","r":"a","c":39,"f":23700},{"s":"0.004ng/ul","r":"a","c":40,"f":24450},{"s":"0.004ng/ul","r":"a","c":41,"f":25100},{"s":"0.004ng/ul","r":"a","c":42,"f":25650},{"s":"0.004ng/ul","r":"a","c":43,"f":26100},{"s":"0.004ng/ul","r":"a","c":44,"f":26500},{"s":"0.004ng/ul","r":"a","c":45,"f":26850},
{"s":"0.004ng/ul","r":"b","c":1,"f":1050},{"s":"0.004ng/ul","r":"b","c":2,"f":270},{"s":"0.004ng/ul","r":"b","c":3,"f":40},{"s":"0.004ng/ul","r":"b","c":4,"f":-70},{"s":"0.004ng/ul","r":"b","c":5,"f":-100},{"s":"0.004ng/ul","r":"b","c":6,"f":-120},{"s":"0.004ng/ul","r":"b","c":7,"f":-130},{"s":"0.004ng/ul","r":"b","c":8,"f":-120},{"s":"0.004ng/ul","r":"b","c":9,"f":-110},{"s":"0.004ng/ul","r":"b","c":10,"f":-100},{"s":"0.004ng/ul","r":"b","c":11,"f":-90},{"s":"0.004ng/ul","r":"b","c":12,"f":-80},{"s":"0.004ng/ul","r":"b","c":13,"f":-70},{"s":"0.004ng/ul","r":"b","c":14,"f":-60},{"s":"0.004ng/ul","r":"b","c":15,"f":-50},{"s":"0.004ng/ul","r":"b","c":16,"f":-40},{"s":"0.004ng/ul","r":"b","c":17,"f":-10},{"s":"0.004ng/ul","r":"b","c":18,"f":30},{"s":"0.004ng/ul","r":"b","c":19,"f":70},{"s":"0.004ng/ul","r":"b","c":20,"f":140},{"s":"0.004ng/ul","r":"b","c":21,"f":260},{"s":"0.004ng/ul","r":"b","c":22,"f":450},{"s":"0.004ng/ul","r":"b","c":23,"f":750},{"s":"0.004ng/ul","r":"b","c":24,"f":1200},{"s":"0.004ng/ul","r":"b","c":25,"f":1820},{"s":"0.004ng/ul","r":"b","c":26,"f":2650},{"s":"0.004ng/ul","r":"b","c":27,"f":3750},{"s":"0.004ng/ul","r":"b","c":28,"f":5100},{"s":"0.004ng/ul","r":"b","c":29,"f":6700},{"s":"0.004ng/ul","r":"b","c":30,"f":8500},{"s":"0.004ng/ul","r":"b","c":31,"f":10400},{"s":"0.004ng/ul","r":"b","c":32,"f":12400},{"s":"0.004ng/ul","r":"b","c":33,"f":14400},{"s":"0.004ng/ul","r":"b","c":34,"f":16300},{"s":"0.004ng/ul","r":"b","c":35,"f":18100},{"s":"0.004ng/ul","r":"b","c":36,"f":19700},{"s":"0.004ng/ul","r":"b","c":37,"f":21100},{"s":"0.004ng/ul","r":"b","c":38,"f":22300},{"s":"0.004ng/ul","r":"b","c":39,"f":23300},{"s":"0.004ng/ul","r":"b","c":40,"f":24100},{"s":"0.004ng/ul","r":"b","c":41,"f":24800},{"s":"0.004ng/ul","r":"b","c":42,"f":25400},{"s":"0.004ng/ul","r":"b","c":43,"f":25900},{"s":"0.004ng/ul","r":"b","c":44,"f":26300},{"s":"0.004ng/ul","r":"b","c":45,"f":26700},
{"s":"0.004ng/ul","r":"c","c":1,"f":1250},{"s":"0.004ng/ul","r":"c","c":2,"f":320},{"s":"0.004ng/ul","r":"c","c":3,"f":60},{"s":"0.004ng/ul","r":"c","c":4,"f":-50},{"s":"0.004ng/ul","r":"c","c":5,"f":-80},{"s":"0.004ng/ul","r":"c","c":6,"f":-100},{"s":"0.004ng/ul","r":"c","c":7,"f":-120},{"s":"0.004ng/ul","r":"c","c":8,"f":-130},{"s":"0.004ng/ul","r":"c","c":9,"f":-120},{"s":"0.004ng/ul","r":"c","c":10,"f":-110},{"s":"0.004ng/ul","r":"c","c":11,"f":-100},{"s":"0.004ng/ul","r":"c","c":12,"f":-90},{"s":"0.004ng/ul","r":"c","c":13,"f":-80},{"s":"0.004ng/ul","r":"c","c":14,"f":-70},{"s":"0.004ng/ul","r":"c","c":15,"f":-60},{"s":"0.004ng/ul","r":"c","c":16,"f":-50},{"s":"0.004ng/ul","r":"c","c":17,"f":-40},{"s":"0.004ng/ul","r":"c","c":18,"f":16},{"s":"0.004ng/ul","r":"c","c":19,"f":53},{"s":"0.004ng/ul","r":"c","c":20,"f":110},{"s":"0.004ng/ul","r":"c","c":21,"f":210},{"s":"0.004ng/ul","r":"c","c":22,"f":373},{"s":"0.004ng/ul","r":"c","c":23,"f":630},{"s":"0.004ng/ul","r":"c","c":24,"f":1024},{"s":"0.004ng/ul","r":"c","c":25,"f":1586},{"s":"0.004ng/ul","r":"c","c":26,"f":2347},{"s":"0.004ng/ul","r":"c","c":27,"f":3360},{"s":"0.004ng/ul","r":"c","c":28,"f":4646},{"s":"0.004ng/ul","r":"c","c":29,"f":6195},{"s":"0.004ng/ul","r":"c","c":30,"f":7980},{"s":"0.004ng/ul","r":"c","c":31,"f":9923},{"s":"0.004ng/ul","r":"c","c":32,"f":11970},{"s":"0.004ng/ul","r":"c","c":33,"f":14070},{"s":"0.004ng/ul","r":"c","c":34,"f":16118},{"s":"0.004ng/ul","r":"c","c":35,"f":18060},{"s":"0.004ng/ul","r":"c","c":36,"f":19845},{"s":"0.004ng/ul","r":"c","c":37,"f":21420},{"s":"0.004ng/ul","r":"c","c":38,"f":22785},{"s":"0.004ng/ul","r":"c","c":39,"f":23940},{"s":"0.004ng/ul","r":"c","c":40,"f":24885},{"s":"0.004ng/ul","r":"c","c":41,"f":25673},{"s":"0.004ng/ul","r":"c","c":42,"f":26355},{"s":"0.004ng/ul","r":"c","c":43,"f":26933},{"s":"0.004ng/ul","r":"c","c":44,"f":27405},{"s":"0.004ng/ul","r":"c","c":45,"f":27825},
{"s":"NTC","r":"a","c":1,"f":600},{"s":"NTC","r":"a","c":2,"f":150},{"s":"NTC","r":"a","c":3,"f":20},{"s":"NTC","r":"a","c":4,"f":-20},{"s":"NTC","r":"a","c":5,"f":-40},{"s":"NTC","r":"a","c":6,"f":-50},{"s":"NTC","r":"a","c":7,"f":-40},{"s":"NTC","r":"a","c":8,"f":-30},{"s":"NTC","r":"a","c":9,"f":-40},{"s":"NTC","r":"a","c":10,"f":-50},{"s":"NTC","r":"a","c":11,"f":-40},{"s":"NTC","r":"a","c":12,"f":-30},{"s":"NTC","r":"a","c":13,"f":-20},{"s":"NTC","r":"a","c":14,"f":-30},{"s":"NTC","r":"a","c":15,"f":-40},{"s":"NTC","r":"a","c":16,"f":-30},{"s":"NTC","r":"a","c":17,"f":-20},{"s":"NTC","r":"a","c":18,"f":-30},{"s":"NTC","r":"a","c":19,"f":-20},{"s":"NTC","r":"a","c":20,"f":-10},{"s":"NTC","r":"a","c":21,"f":-20},{"s":"NTC","r":"a","c":22,"f":-10},{"s":"NTC","r":"a","c":23,"f":0},{"s":"NTC","r":"a","c":24,"f":-10},{"s":"NTC","r":"a","c":25,"f":0},{"s":"NTC","r":"a","c":26,"f":10},{"s":"NTC","r":"a","c":27,"f":0},{"s":"NTC","r":"a","c":28,"f":10},{"s":"NTC","r":"a","c":29,"f":20},{"s":"NTC","r":"a","c":30,"f":60},{"s":"NTC","r":"a","c":31,"f":150},{"s":"NTC","r":"a","c":32,"f":320},{"s":"NTC","r":"a","c":33,"f":600},{"s":"NTC","r":"a","c":34,"f":1000},{"s":"NTC","r":"a","c":35,"f":1550},{"s":"NTC","r":"a","c":36,"f":2250},{"s":"NTC","r":"a","c":37,"f":3150},{"s":"NTC","r":"a","c":38,"f":4350},{"s":"NTC","r":"a","c":39,"f":5800},{"s":"NTC","r":"a","c":40,"f":7500},{"s":"NTC","r":"a","c":41,"f":9400},{"s":"NTC","r":"a","c":42,"f":11400},{"s":"NTC","r":"a","c":43,"f":13400},{"s":"NTC","r":"a","c":44,"f":15500},{"s":"NTC","r":"a","c":45,"f":17600},
{"s":"NTC","r":"b","c":1,"f":500},{"s":"NTC","r":"b","c":2,"f":120},{"s":"NTC","r":"b","c":3,"f":10},{"s":"NTC","r":"b","c":4,"f":-30},{"s":"NTC","r":"b","c":5,"f":-50},{"s":"NTC","r":"b","c":6,"f":-60},{"s":"NTC","r":"b","c":7,"f":-50},{"s":"NTC","r":"b","c":8,"f":-40},{"s":"NTC","r":"b","c":9,"f":-50},{"s":"NTC","r":"b","c":10,"f":-40},{"s":"NTC","r":"b","c":11,"f":-30},{"s":"NTC","r":"b","c":12,"f":-40},{"s":"NTC","r":"b","c":13,"f":-30},{"s":"NTC","r":"b","c":14,"f":-20},{"s":"NTC","r":"b","c":15,"f":-30},{"s":"NTC","r":"b","c":16,"f":-20},{"s":"NTC","r":"b","c":17,"f":-30},{"s":"NTC","r":"b","c":18,"f":-20},{"s":"NTC","r":"b","c":19,"f":-10},{"s":"NTC","r":"b","c":20,"f":-20},{"s":"NTC","r":"b","c":21,"f":-10},{"s":"NTC","r":"b","c":22,"f":-20},{"s":"NTC","r":"b","c":23,"f":-10},{"s":"NTC","r":"b","c":24,"f":0},{"s":"NTC","r":"b","c":25,"f":-10},{"s":"NTC","r":"b","c":26,"f":0},{"s":"NTC","r":"b","c":27,"f":10},{"s":"NTC","r":"b","c":28,"f":0},{"s":"NTC","r":"b","c":29,"f":10},{"s":"NTC","r":"b","c":30,"f":40},{"s":"NTC","r":"b","c":31,"f":120},{"s":"NTC","r":"b","c":32,"f":260},{"s":"NTC","r":"b","c":33,"f":500},{"s":"NTC","r":"b","c":34,"f":850},{"s":"NTC","r":"b","c":35,"f":1350},{"s":"NTC","r":"b","c":36,"f":2000},{"s":"NTC","r":"b","c":37,"f":2850},{"s":"NTC","r":"b","c":38,"f":3900},{"s":"NTC","r":"b","c":39,"f":5100},{"s":"NTC","r":"b","c":40,"f":6400},{"s":"NTC","r":"b","c":41,"f":7800},{"s":"NTC","r":"b","c":42,"f":9200},{"s":"NTC","r":"b","c":43,"f":10700},{"s":"NTC","r":"b","c":44,"f":12300},{"s":"NTC","r":"b","c":45,"f":13900},
{"s":"NTC","r":"c","c":1,"f":550},{"s":"NTC","r":"c","c":2,"f":140},{"s":"NTC","r":"c","c":3,"f":20},{"s":"NTC","r":"c","c":4,"f":-20},{"s":"NTC","r":"c","c":5,"f":-40},{"s":"NTC","r":"c","c":6,"f":-50},{"s":"NTC","r":"c","c":7,"f":-60},{"s":"NTC","r":"c","c":8,"f":-50},{"s":"NTC","r":"c","c":9,"f":-40},{"s":"NTC","r":"c","c":10,"f":-30},{"s":"NTC","r":"c","c":11,"f":-40},{"s":"NTC","r":"c","c":12,"f":-30},{"s":"NTC","r":"c","c":13,"f":-40},{"s":"NTC","r":"c","c":14,"f":-30},{"s":"NTC","r":"c","c":15,"f":-20},{"s":"NTC","r":"c","c":16,"f":-30},{"s":"NTC","r":"c","c":17,"f":-20},{"s":"NTC","r":"c","c":18,"f":-10},{"s":"NTC","r":"c","c":19,"f":-20},{"s":"NTC","r":"c","c":20,"f":-10},{"s":"NTC","r":"c","c":21,"f":-20},{"s":"NTC","r":"c","c":22,"f":-10},{"s":"NTC","r":"c","c":23,"f":0},{"s":"NTC","r":"c","c":24,"f":-10},{"s":"NTC","r":"c","c":25,"f":0},{"s":"NTC","r":"c","c":26,"f":-10},{"s":"NTC","r":"c","c":27,"f":0},{"s":"NTC","r":"c","c":28,"f":10},{"s":"NTC","r":"c","c":29,"f":20},{"s":"NTC","r":"c","c":30,"f":50},{"s":"NTC","r":"c","c":31,"f":130},{"s":"NTC","r":"c","c":32,"f":280},{"s":"NTC","r":"c","c":33,"f":520},{"s":"NTC","r":"c","c":34,"f":850},{"s":"NTC","r":"c","c":35,"f":1300},{"s":"NTC","r":"c","c":36,"f":1850},{"s":"NTC","r":"c","c":37,"f":2500},{"s":"NTC","r":"c","c":38,"f":3200},{"s":"NTC","r":"c","c":39,"f":3950},{"s":"NTC","r":"c","c":40,"f":4750},{"s":"NTC","r":"c","c":41,"f":5600},{"s":"NTC","r":"c","c":42,"f":6450},{"s":"NTC","r":"c","c":43,"f":7250},{"s":"NTC","r":"c","c":44,"f":8050},{"s":"NTC","r":"c","c":45,"f":8800}
]},
"encoding":{
"x":{"field":"c","type":"quantitative","title":"Cycles","scale":{"domain":[1,45.1],"nice":false,"zero":false},
"axis":{"values":[1,2,3,4,5,6,7,8,9,10,11,12,13,14,15,16,17,18,19,20,21,22,23,24,25,26,27,28,29,30,31,32,33,34,35,36,37,38,39,40,41,42,43,44,45],"labelExpr":"datum.value % 2 == 0 ? datum.label : ''","labelOverlap":false,"labelFlush":false,"labelFontSize":6.5,"labelColor":"#444","labelPadding":4,"tickSize":3,"tickColor":"#000","domainColor":"#000","titleFontSize":8,"titleFontWeight":"normal","titleColor":"#333","titlePadding":5,"grid":true,"gridColor":"#999","gridDash":[1,2],"gridOpacity":{"condition":{"test":"datum.value % 2 == 0","value":1},"value":0}}},
"y":{"field":"f","type":"quantitative","title":"Fluorescence (dR)","scale":{"domain":[-1690,35500],"nice":false,"zero":false},
"axis":{"values":[0,5000,10000,15000,20000,25000,30000,35000],"format":"d","labelExpr":"datum.value % 10000 == 0 ? datum.label : ''","labelOverlap":false,"labelFontSize":6.5,"labelColor":"#444","labelPadding":1,"tickSize":3,"tickColor":"#000","domainColor":"#000","titleFontSize":8,"titleFontWeight":"normal","titleColor":"#333","titlePadding":8,"grid":true,"gridColor":"#999","gridDash":[1,2],"gridOpacity":{"condition":{"test":"datum.value % 10000 == 0","value":1},"value":0}}}
},
"layer":[
{"mark":{"type":"line","strokeWidth":1},
"encoding":{"stroke":{"field":"s","type":"nominal","scale":{"domain":["84ng/ul","16ng/ul","4ng/ul","1ng/ul","0.25ng/ul","0.063ng/ul","0.016ng/ul","0.004ng/ul","NTC"],"range":["#111","#111","#111","#111","#111","#111","#111","#111","#c4c4c4"]},"legend":null},"detail":{"field":"r","type":"nominal"}}},
{"mark":{"type":"point","filled":true,"strokeWidth":0.7,"opacity":1},
"encoding":{
"shape":{"field":"s","type":"nominal","scale":{"domain":["84ng/ul","16ng/ul","4ng/ul","1ng/ul","0.25ng/ul","0.063ng/ul","0.016ng/ul","0.004ng/ul","NTC"],"range":["circle","triangle-up","cross","diamond","circle","circle","square","triangle-down","circle"]},"legend":null},
"fill":{"field":"s","type":"nominal","scale":{"domain":["84ng/ul","16ng/ul","4ng/ul","1ng/ul","0.25ng/ul","0.063ng/ul","0.016ng/ul","0.004ng/ul","NTC"],"range":["#000","#000","#000","#000","#000","#000","#fff","#000","#fff"]},"legend":null},
"stroke":{"field":"s","type":"nominal","scale":{"domain":["84ng/ul","16ng/ul","4ng/ul","1ng/ul","0.25ng/ul","0.063ng/ul","0.016ng/ul","0.004ng/ul","NTC"],"range":["#000","#000","#000","#000","#000","#000","#000","#000","#bbb"]},"legend":null},
"size":{"field":"s","type":"ordinal","scale":{"domain":["84ng/ul","16ng/ul","4ng/ul","1ng/ul","0.25ng/ul","0.063ng/ul","0.016ng/ul","0.004ng/ul","NTC"],"range":[30,28,24,26,10,20,22,30,14]},"legend":null}}},
{"data":{"values":[{"threshold":2650}]},"mark":{"type":"rule","color":"#1e8c1e","strokeWidth":1.2},"encoding":{"x":null,"y":{"field":"threshold","type":"quantitative"}}},
{"data":{"values":[{"cursor":45.1}]},"mark":{"type":"rule","color":"#4a86cc","strokeWidth":2},"encoding":{"y":null,"x":{"field":"cursor","type":"quantitative"}}},
{"transform":[{"filter":"datum.c > 1000"}],"mark":{"type":"point","filled":true},
"encoding":{
"shape":{"field":"s","type":"nominal","scale":{"domain":["84ng/ul","16ng/ul","4ng/ul","1ng/ul","0.25ng/ul","0.063ng/ul","0.016ng/ul","0.004ng/ul","NTC"],"range":[
"M-3.4,0H3.4M-0.75,0A0.75,0.75,0,1,0,0.75,0A0.75,0.75,0,1,0,-0.75,0Z",
"M-3.4,0H3.4M0,-0.85L0.85,0.65L-0.85,0.65Z",
"M-3.4,0H3.4M-0.3,-0.8H0.3V-0.3H0.8V0.3H0.3V0.8H-0.3V0.3H-0.8V-0.3H-0.3Z",
"M-3.4,0H3.4M0,-0.85L0.85,0L0,0.85L-0.85,0Z",
"M-3.4,0H3.4M-0.4,0A0.4,0.4,0,1,0,0.4,0A0.4,0.4,0,1,0,-0.4,0Z",
"M-3.4,0H3.4M-0.6,0A0.6,0.6,0,1,0,0.6,0A0.6,0.6,0,1,0,-0.6,0Z",
"M-3.4,0H3.4M-0.6,-0.6H0.6V0.6H-0.6Z",
"M-3.4,0H3.4M0,0.85L0.85,-0.65L-0.85,-0.65Z",
"M-3.4,0H3.4M-0.4,0A0.4,0.4,0,1,0,0.4,0A0.4,0.4,0,1,0,-0.4,0Z"]},
"legend":{"title":null,"orient":"none","legendX":14,"legendY":3}},
"fill":{"field":"s","type":"nominal","scale":{"domain":["84ng/ul","16ng/ul","4ng/ul","1ng/ul","0.25ng/ul","0.063ng/ul","0.016ng/ul","0.004ng/ul","NTC"],"range":["#000","#000","#000","#000","#000","#000","#fff","#000","#fff"]},"legend":{"title":null,"orient":"none","legendX":14,"legendY":3}},
"stroke":{"field":"s","type":"nominal","scale":{"domain":["84ng/ul","16ng/ul","4ng/ul","1ng/ul","0.25ng/ul","0.063ng/ul","0.016ng/ul","0.004ng/ul","NTC"],"range":["#000","#000","#000","#000","#000","#000","#000","#000","#bbb"]},"legend":{"title":null,"orient":"none","legendX":14,"legendY":3}}}}
],
"resolve":{"scale":{"shape":"independent","fill":"independent","stroke":"independent"}}
}
